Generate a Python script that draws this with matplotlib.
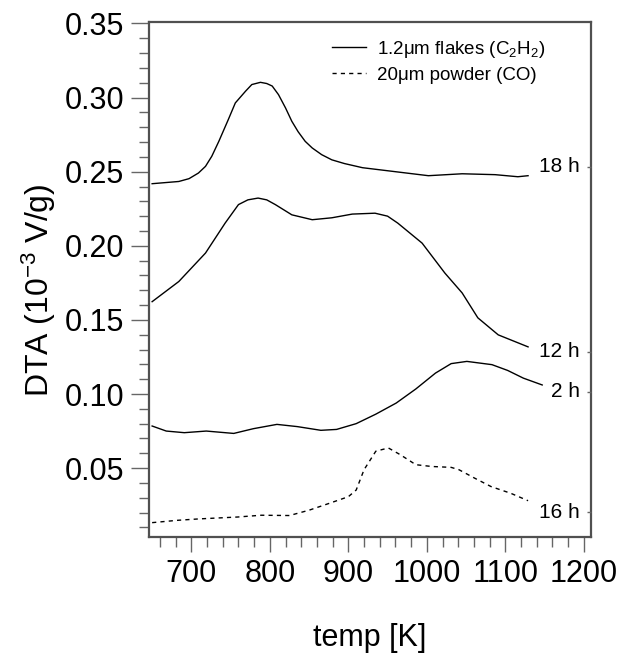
import matplotlib
matplotlib.use("Agg")
import matplotlib.pyplot as plt
from matplotlib.ticker import MultipleLocator, FormatStrFormatter

# fonts (Arial-like)
plt.rcParams['font.family'] = ['Liberation Sans', 'DejaVu Sans']
plt.rcParams['mathtext.fontset'] = 'custom'
plt.rcParams['mathtext.rm'] = 'Liberation Sans'
plt.rcParams['mathtext.it'] = 'Liberation Sans:italic'
plt.rcParams['mathtext.default'] = 'regular'

# 18 h, 1.2um flakes (C2H2)
temp_18h = [650, 684, 697, 709, 718, 726, 735, 747, 756, 769, 777, 788, 796, 803, 811, 820,
            828, 836, 845, 854, 866, 879, 895, 918, 960, 1002, 1045, 1087, 1116, 1129]
dta_18h = [0.2419, 0.2434, 0.2453, 0.2491, 0.2536, 0.2604, 0.2705, 0.2851, 0.2964, 0.3043,
           0.3088, 0.3103, 0.3095, 0.3078, 0.302, 0.293, 0.284, 0.277, 0.2705, 0.266, 0.2615,
           0.258, 0.2555, 0.2527, 0.250, 0.2473, 0.2486, 0.248, 0.2466, 0.2473]

# 12 h
temp_12h = [650, 684, 718, 743, 760, 772, 785, 796, 807, 828, 854, 879, 905, 934, 950, 963,
            994, 1023, 1045, 1065, 1091, 1129]
dta_12h = [0.1623, 0.1759, 0.1951, 0.2153, 0.2278, 0.2310, 0.2322, 0.2310, 0.2278, 0.2209,
           0.2176, 0.2189, 0.2214, 0.2220, 0.2200, 0.2153, 0.2018, 0.1816, 0.1682, 0.1514,
           0.1399, 0.1318]

# 2 h
temp_2h = [650, 668, 691, 719, 754, 779, 809, 835, 865, 885, 910, 935, 961, 986, 1011, 1031,
           1051, 1083, 1103, 1123, 1147]
dta_2h = [0.0784, 0.075, 0.0739, 0.075, 0.0734, 0.0766, 0.0795, 0.078, 0.0755, 0.0761, 0.080,
          0.0864, 0.0939, 0.1034, 0.1141, 0.1205, 0.122, 0.1198, 0.1159, 0.1107, 0.1061]

# 16 h, 20um powder (CO)
temp_16h = [650, 683, 709, 759, 789, 825, 850, 875, 900, 910, 920, 935, 951, 966, 986, 1006,
            1031, 1041, 1061, 1082, 1107, 1129]
dta_16h = [0.0132, 0.0148, 0.0157, 0.0170, 0.0182, 0.0180, 0.0216, 0.0261, 0.0307, 0.0352,
           0.0489, 0.0614, 0.0636, 0.0591, 0.0523, 0.0511, 0.0505, 0.0489, 0.0432, 0.0375,
           0.0330, 0.028]

# curve labels at the right
hour_labels = ['18 h', '12 h', '2 h', '16 h']
hour_label_y = [0.2534, 0.1284, 0.1014, 0.0203]
hour_label_x = 1195

legend_labels = ['1.2μm flakes (C$_2$H$_2$)', '20μm powder (CO)']

SPINE_COLOR = '#505050'
TICK_COLOR = '#666666'

fig = plt.figure(figsize=(6.2, 6.59), dpi=100)
ax = fig.add_axes([0.2403, 0.1851, 0.7127, 0.7815])

ax.plot(temp_18h, dta_18h, color='black', lw=1.0, label=legend_labels[0])
ax.plot(temp_12h, dta_12h, color='black', lw=1.0)
ax.plot(temp_2h, dta_2h, color='black', lw=1.0)
ax.plot(temp_16h, dta_16h, color='black', lw=1.0, ls=(0, (3, 3)), label=legend_labels[1])

for txt, yv in zip(hour_labels, hour_label_y):
    ax.text(hour_label_x, yv, txt, ha='right', va='center', fontsize=15)

ax.set_xlim(646, 1209)
ax.set_ylim(0.0035, 0.351)

ax.xaxis.set_major_locator(MultipleLocator(100))
ax.xaxis.set_minor_locator(MultipleLocator(20))
ax.yaxis.set_major_locator(MultipleLocator(0.05))
ax.yaxis.set_minor_locator(MultipleLocator(0.01))
ax.yaxis.set_major_formatter(FormatStrFormatter('%.2f'))

ax.tick_params(axis='both', which='major', direction='out', labelsize=22, color=TICK_COLOR,
               width=1.0, pad=5)
ax.tick_params(axis='x', which='major', length=11)
ax.tick_params(axis='y', which='major', length=13)
ax.tick_params(axis='both', which='minor', direction='out', length=7, color=TICK_COLOR, width=1.0)

for sp in ax.spines.values():
    sp.set_color(SPINE_COLOR)
    sp.set_linewidth(1.6)

# little marks on right spine next to the labels
ax2 = ax.twinx()
ax2.set_ylim(ax.get_ylim())
ax2.set_yticks(hour_label_y)
ax2.set_yticklabels([])
ax2.tick_params(axis='y', direction='in', length=3, color=TICK_COLOR, width=1.0)
for sp in ax2.spines.values():
    sp.set_visible(False)

ax.set_xlabel('temp [K]', fontsize=22, labelpad=24)
ax.set_ylabel('DTA (10$^{-3}$ V/g)', fontsize=23)
ax.yaxis.set_label_coords(-0.205, 0.48)

ax.legend(loc='upper left', bbox_to_anchor=(0.414, 0.967), frameon=False, fontsize=13.5,
          handlelength=1.8, handletextpad=0.6, labelspacing=0.35, borderpad=0, borderaxespad=0)

plt.savefig('out.png', dpi=100)
